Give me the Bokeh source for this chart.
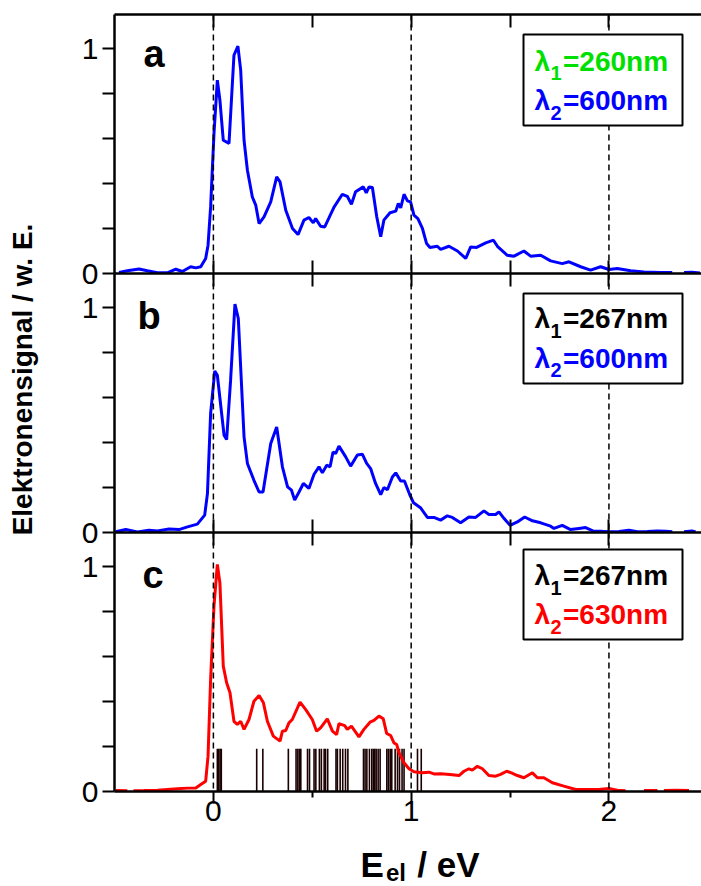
import math
from bokeh.plotting import figure
from bokeh.layouts import row, column
from bokeh.models import Range1d, LinearAxis, FixedTicker, Span, Label, BoxAnnotation
from bokeh.embed import file_html
from bokeh.resources import INLINE

nan = float("nan")

# ---------------- data ----------------
a_energy = [-0.477, -0.435, -0.376, -0.334, -0.283, -0.233, -0.19, -0.157, -0.115, -0.089,
            -0.064, -0.039, -0.027, -0.014, 0.003, 0.02, 0.033, 0.05, 0.079, 0.104,
            0.124, 0.138, 0.155, 0.172, 0.197, 0.214, 0.231, 0.256, 0.29, 0.32,
            0.337, 0.366, 0.4, 0.428, 0.458, 0.483, 0.505, 0.517, 0.542, 0.563,
            0.585, 0.61, 0.652, 0.677, 0.698, 0.719, 0.758, 0.773, 0.787, 0.804,
            0.826, 0.846, 0.862, 0.893, 0.922, 0.935, 0.947, 0.964, 0.981, 0.997,
            1.014, 1.034, 1.057, 1.078, 1.095, 1.132, 1.149, 1.191, 1.234, 1.276,
            1.301, 1.331, 1.377, 1.416, 1.436, 1.486, 1.52, 1.57, 1.604, 1.655,
            1.705, 1.764, 1.798, 1.857, 1.907, 1.958, 2.0, 2.042, 2.11, 2.177,
            2.26, 2.32, nan, 2.38, 2.42, 2.46]
a_signal = [0.005, 0.012, 0.02, 0.012, 0.003, 0.003, 0.019, 0.009, 0.03, 0.025,
            0.03, 0.067, 0.126, 0.296, 0.622, 0.859, 0.77, 0.592, 0.578, 0.97,
            1.01, 0.904, 0.592, 0.459, 0.34, 0.304, 0.222, 0.252, 0.318, 0.429,
            0.407, 0.281, 0.2, 0.173, 0.237, 0.249, 0.225, 0.244, 0.21, 0.207,
            0.248, 0.295, 0.352, 0.343, 0.308, 0.363, 0.385, 0.358, 0.385, 0.382,
            0.252, 0.163, 0.237, 0.27, 0.277, 0.311, 0.292, 0.352, 0.323, 0.318,
            0.259, 0.244, 0.2, 0.133, 0.116, 0.121, 0.107, 0.121, 0.1, 0.067,
            0.118, 0.116, 0.136, 0.148, 0.121, 0.081, 0.077, 0.1, 0.077, 0.081,
            0.056, 0.044, 0.052, 0.03, 0.015, 0.03, 0.018, 0.022, 0.012, 0.007,
            0.004, 0.004, nan, 0.004, 0.006, 0.002]

b_energy = [-0.494, -0.443, -0.384, -0.326, -0.283, -0.224, -0.174, -0.131, -0.081, -0.044,
            -0.03, -0.014, 0.007, 0.02, 0.054, 0.067, 0.087, 0.109, 0.126, 0.155,
            0.172, 0.205, 0.231, 0.251, 0.29, 0.32, 0.349, 0.375, 0.395, 0.411,
            0.433, 0.455, 0.483, 0.509, 0.534, 0.551, 0.573, 0.59, 0.605, 0.618,
            0.635, 0.669, 0.694, 0.728, 0.753, 0.775, 0.795, 0.82, 0.846, 0.862,
            0.88, 0.905, 0.922, 0.947, 0.966, 0.992, 1.012, 1.047, 1.082, 1.115,
            1.149, 1.183, 1.208, 1.25, 1.292, 1.326, 1.368, 1.393, 1.427, 1.444,
            1.47, 1.5, 1.537, 1.574, 1.613, 1.655, 1.705, 1.722, 1.764, 1.806,
            1.848, 1.882, 1.924, 1.967, 2.009, 2.051, 2.101, 2.144, 2.194, 2.245,
            2.287, 2.32, nan, 2.38, 2.42, 2.438]
b_signal = [0.003, 0.013, 0.002, 0.01, 0.007, 0.016, 0.013, 0.025, 0.037, 0.077,
            0.173, 0.529, 0.718, 0.699, 0.432, 0.413, 0.677, 1.015, 0.951, 0.425,
            0.307, 0.232, 0.18, 0.18, 0.396, 0.469, 0.292, 0.203, 0.188, 0.144,
            0.18, 0.218, 0.196, 0.259, 0.292, 0.265, 0.299, 0.292, 0.358, 0.351,
            0.384, 0.336, 0.295, 0.344, 0.348, 0.307, 0.284, 0.218, 0.168, 0.2,
            0.19, 0.247, 0.265, 0.229, 0.229, 0.17, 0.132, 0.11, 0.067, 0.067,
            0.055, 0.074, 0.067, 0.043, 0.069, 0.067, 0.096, 0.08, 0.08, 0.092,
            0.062, 0.032, 0.047, 0.069, 0.052, 0.043, 0.028, 0.018, 0.032, 0.013,
            0.018, 0.022, 0.005, 0.005, 0.003, 0.005, 0.01, 0.003, 0.004, 0.007,
            0.006, 0.003, nan, 0.003, 0.007, 0.002]

c_energy = [-0.494, -0.435, nan, -0.404, -0.351, -0.283, -0.233, -0.182, -0.131, -0.089,
            -0.064, -0.039, -0.027, -0.014, 0.003, 0.02, 0.033, 0.05, 0.067, 0.084,
            0.104, 0.121, 0.138, 0.155, 0.18, 0.205, 0.231, 0.253, 0.273, 0.303,
            0.337, 0.349, 0.366, 0.382, 0.399, 0.438, 0.467, 0.5, 0.522, 0.542,
            0.576, 0.602, 0.623, 0.635, 0.664, 0.677, 0.698, 0.736, 0.761, 0.792,
            0.812, 0.837, 0.859, 0.876, 0.896, 0.913, 0.927, 0.938, 0.964, 0.989,
            1.014, 1.057, 1.09, 1.115, 1.149, 1.196, 1.242, 1.267, 1.292, 1.309,
            1.335, 1.36, 1.393, 1.427, 1.452, 1.483, 1.507, 1.537, 1.57, 1.613,
            1.638, 1.671, 1.714, 1.772, 1.832, 1.89, 1.949, 2.0, 2.042, 2.084,
            nan, 2.177, 2.245, nan, 2.278, 2.34, 2.405]
c_signal = [0.004, 0.003, nan, 0.003, 0.004, 0.006, 0.009, 0.012, 0.015, 0.016,
            0.031, 0.046, 0.157, 0.498, 0.824, 1.009, 0.927, 0.557, 0.483, 0.439,
            0.312, 0.298, 0.312, 0.276, 0.32, 0.401, 0.427, 0.394, 0.312, 0.246,
            0.224, 0.268, 0.271, 0.305, 0.32, 0.397, 0.364, 0.32, 0.268, 0.283,
            0.323, 0.268, 0.253, 0.302, 0.293, 0.276, 0.29, 0.243, 0.276, 0.308,
            0.316, 0.335, 0.323, 0.258, 0.249, 0.216, 0.209, 0.172, 0.128, 0.101,
            0.088, 0.083, 0.086, 0.078, 0.079, 0.076, 0.071, 0.09, 0.101, 0.095,
            0.112, 0.101, 0.071, 0.068, 0.076, 0.09, 0.083, 0.071, 0.061, 0.083,
            0.061, 0.061, 0.039, 0.024, 0.009, 0.009, 0.009, 0.013, 0.006, 0.003,
            nan, 0.004, 0.004, nan, 0.004, 0.006, 0.004]

stick_energy = [0.020, 0.027, 0.034, 0.040, 0.219, 0.250, 0.379, 0.418, 0.427, 0.435,
                0.442, 0.476, 0.486, 0.509, 0.518, 0.536, 0.546, 0.560, 0.567, 0.578,
                0.620, 0.627, 0.641, 0.654, 0.668, 0.680, 0.759, 0.767, 0.776, 0.789,
                0.801, 0.809, 0.816, 0.823, 0.833, 0.843, 0.877, 0.885, 0.894, 0.902,
                0.919, 0.931, 0.941, 0.954, 0.964, 1.032, 1.051]
stick_height = 0.19

x_major_ticks = [0, 1, 2]
x_minor_ticks = [0.5, 1.5]
y_major_ticks = [0, 1]
y_minor_ticks = [0.2, 0.4, 0.6, 0.8]
y_tick_labels = ["0", "1"]
dashed_energies = [0, 1, 2]

panel_letters = ["a", "b", "c"]
legend_lambda1 = ["=260nm", "=267nm", "=267nm"]
legend_lambda2 = ["=600nm", "=600nm", "=630nm"]
legend_color1 = ["#00e000", "black", "black"]
legend_color2 = ["#0000ff", "#0000ff", "#ff0000"]
curve_colors = ["#0000ff", "#0000ff", "#ff0000"]

y_title = "Elektronensignal / w. E."
x_title_main, x_title_sub, x_title_rest = "E", "el", "/ eV"

# ---------------- layout constants ----------------
FONT = "Liberation Sans"
SHIFT = 0.35          # Label baseline correction (fraction of font size)
PAGE_W, PAGE_H = 701, 886
FRAME_L = 114
TICK_LEN = 12
LEFT_W = FRAME_L - TICK_LEN
FRAME_W = PAGE_W - FRAME_L
FRAME_H = 259
X_START, X_END = -0.5, 2.468
Y_START, Y_END = 0.0, 1.151
SX = FRAME_W / (X_END - X_START)
SY = FRAME_H / (Y_END - Y_START)
TOPS = [14, 273, 532]
HEIGHTS = [273, 259, 305]
XLAB_TOP = 273 + 259 + 305
XLAB_H = PAGE_H - XLAB_TOP


def dx(px):
    return X_START + (px - FRAME_L) / SX


def dy(py, top):
    return Y_START + (top + FRAME_H - py) / SY


def add_label(p, px, py, top, text, size, color="black", bold=True):
    p.add_layout(Label(x=dx(px), y=dy(py - SHIFT * size, top), text=text, text_font=FONT,
                       text_font_size=f"{size}px", text_color=color,
                       text_font_style="bold" if bold else "normal",
                       text_baseline="alphabetic", text_align="left"))


def style_inner_axis(ax):
    ax.ticker = FixedTicker(ticks=[], minor_ticks=sorted(x_major_ticks + x_minor_ticks))
    ax.axis_line_width = 2.5
    ax.minor_tick_line_width = 2
    ax.minor_tick_in = 13
    ax.minor_tick_out = 0
    ax.major_tick_in = 0
    ax.major_tick_out = 0
    ax.major_label_standoff = 0


def make_panel(i):
    top = TOPS[i]
    last = i == 2
    tb = 14 if i == 0 else 0
    p = figure(width=PAGE_W - LEFT_W, height=HEIGHTS[i],
               x_range=Range1d(X_START, X_END), y_range=Range1d(Y_START, Y_END),
               output_backend="svg", toolbar_location=None,
               min_border_left=TICK_LEN, min_border_right=0,
               min_border_top=tb, min_border_bottom=HEIGHTS[i] - FRAME_H - tb)
    p.outline_line_color = None
    p.grid.visible = False

    # left axis: tick marks only (labels are drawn in the strip on the left so that
    # the "0" labels can straddle the panel boundaries as in the original)
    ya = p.yaxis[0]
    marks = sorted(y_major_ticks + y_minor_ticks + ([Y_END] if i > 0 else []))
    ya.ticker = FixedTicker(ticks=[], minor_ticks=marks)
    ya.axis_line_width = 2.5
    ya.minor_tick_line_width = 2
    ya.minor_tick_in = 0
    ya.minor_tick_out = TICK_LEN
    ya.major_tick_in = 0
    ya.major_tick_out = 0
    ya.major_label_standoff = 0

    # bottom axis
    xa = p.xaxis[0]
    if last:
        xa.ticker = FixedTicker(ticks=x_major_ticks, minor_ticks=x_minor_ticks)
        xa.axis_line_width = 2.5
        xa.major_tick_line_width = 2
        xa.minor_tick_line_width = 2
        xa.major_tick_in = 0
        xa.major_tick_out = 12
        xa.minor_tick_in = 0
        xa.minor_tick_out = 6
        xa.major_label_standoff = -3
        xa.major_label_text_font = FONT
        xa.major_label_text_font_size = "30px"
        xa.major_label_text_color = "black"
    else:
        style_inner_axis(xa)

    # top axis
    ta = LinearAxis()
    style_inner_axis(ta)
    p.add_layout(ta, "above")

    for e in dashed_energies:
        p.add_layout(Span(location=e, dimension="height", line_color="black",
                          line_width=1.5, line_dash="6 4"))

    energy = [a_energy, b_energy, c_energy][i]
    signal = [a_signal, b_signal, c_signal][i]
    if last:
        p.segment(x0=stick_energy, y0=[0] * len(stick_energy), x1=stick_energy,
                  y1=[stick_height] * len(stick_energy), line_color="#1a0000", line_width=1.6)
    p.line(energy, signal, line_color=curve_colors[i], line_width=3)

    # legend box
    box_off = [(20, 111), (20, 110), (17, 107)][i]
    base_off = [(56.5, 96), (55, 94.5), (53, 92)][i]
    bl, br = 523, 682
    p.add_layout(BoxAnnotation(left=dx(bl), right=dx(br), top=dy(top + box_off[0], top),
                               bottom=dy(top + box_off[1], top), fill_color="white",
                               fill_alpha=1.0, line_color="black", line_width=2, line_alpha=1.0))
    tx = bl + 11
    for k, (rest, col) in enumerate([(legend_lambda1[i], legend_color1[i]),
                                     (legend_lambda2[i], legend_color2[i])]):
        by = top + base_off[k]
        add_label(p, tx, by, top, "\u03bb", 28, col)
        add_label(p, tx + 16, by + 9, top, str(k + 1), 20, col)
        add_label(p, tx + 28.5, by, top, rest, 28, col)

    # panel letter
    letter_pos = [(143, 67), (137, 329), (142, 588)][i]
    add_label(p, letter_pos[0], letter_pos[1], top, panel_letters[i], 38)
    return p


def blank(width, height, xr, yr):
    f = figure(width=width, height=height, x_range=xr, y_range=yr,
               output_backend="svg", toolbar_location=None, min_border=0,
               x_axis_location=None, y_axis_location=None)
    f.outline_line_color = None
    f.grid.visible = False
    return f


panels = [make_panel(i) for i in range(3)]

# left strip: y title and y tick labels (range in page pixels, y downwards)
lf = blank(LEFT_W, PAGE_H, Range1d(0, LEFT_W), Range1d(PAGE_H, 0))
lf.add_layout(Label(x=32 - SHIFT * 28, y=379, text=y_title, angle=math.pi / 2, text_font=FONT,
                    text_font_size="28px", text_font_style="bold", text_color="black",
                    text_align="center", text_baseline="alphabetic"))
TICK_FS = 30
for top in TOPS:
    for v, lab in zip(y_major_ticks, y_tick_labels):
        py = top + FRAME_H - (v - Y_START) * SY      # page pixel of the tick
        base = py + 0.358 * TICK_FS                   # digit baseline for a centred digit
        lf.add_layout(Label(x=LEFT_W - 4, y=base - SHIFT * TICK_FS, text=lab, text_font=FONT,
                            text_font_size=f"{TICK_FS}px", text_color="black",
                            text_align="right", text_baseline="alphabetic"))

# x title strip (range in page pixels, y downwards)
xf = blank(PAGE_W - LEFT_W, XLAB_H, Range1d(LEFT_W, PAGE_W), Range1d(PAGE_H, XLAB_TOP))
for txt, px, py, fs in [(x_title_main, 353, 876, 35), (x_title_sub, 379, 880, 24),
                        (x_title_rest, 411, 876, 35)]:
    xf.add_layout(Label(x=px, y=py - SHIFT * fs, text=txt, text_font=FONT,
                        text_font_size=f"{fs}px", text_font_style="bold", text_color="black",
                        text_align="left", text_baseline="alphabetic"))

layout = row(lf, column(*panels, xf, spacing=0), spacing=0)
open("out.html", "w").write(file_html(layout, INLINE))
